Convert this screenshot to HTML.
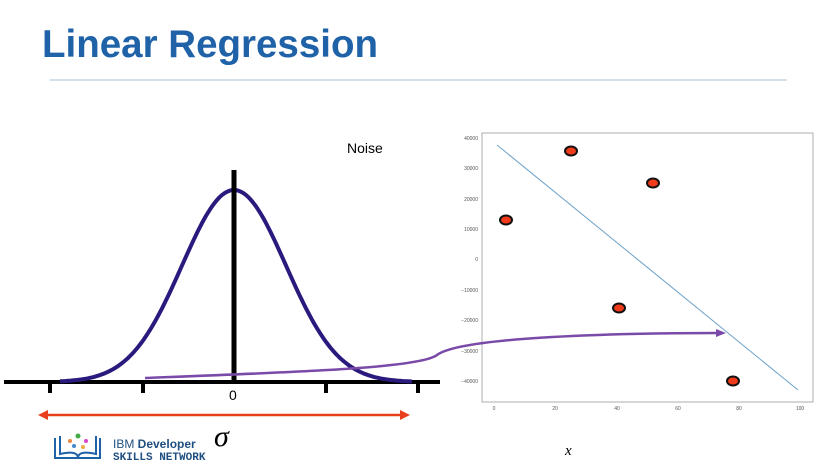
<!DOCTYPE html>
<html><head><meta charset="utf-8"><style>
html,body{margin:0;padding:0;background:#fff;}
svg{display:block;}
</style></head><body>
<svg id="s" width="832" height="469" viewBox="0 0 832 469" xmlns="http://www.w3.org/2000/svg" font-family="Liberation Sans, sans-serif">
<rect width="832" height="469" fill="#fff"/>
<text x="42" y="57" font-size="39" font-weight="bold" fill="#1f62a8" textLength="336" lengthAdjust="spacingAndGlyphs">Linear Regression</text>
<line x1="50" y1="80" x2="787" y2="80" stroke="#c5d6e6" stroke-width="1.5"/>
<text x="347" y="153" font-size="14" fill="#000">Noise</text>
<!-- axis -->
<line x1="4" y1="382" x2="440" y2="382" stroke="#000" stroke-width="4"/>
<g stroke="#000" stroke-width="4">
<line x1="50" y1="382" x2="50" y2="393"/><line x1="143" y1="382" x2="143" y2="393"/>
<line x1="326" y1="382" x2="326" y2="393"/><line x1="418" y1="382" x2="418" y2="393"/>
</g>
<path id="g" fill="none" stroke="#2b1a7e" stroke-width="4"/>
<line x1="234" y1="170" x2="234" y2="382" stroke="#000" stroke-width="5"/>
<text x="229" y="400" font-size="14">0</text>
<line x1="44" y1="415" x2="404" y2="415" stroke="#e8401c" stroke-width="2.5"/>
<polygon points="38,415 48,410 48,420" fill="#e8401c"/>
<polygon points="410,415 400,410 400,420" fill="#e8401c"/>
<text x="214" y="446" font-size="30" font-style="italic" font-family="Liberation Serif, serif">σ</text>
<!-- logo -->
<g stroke="#1f62a8" stroke-width="2" fill="none">
<path d="M55 438 V458 H100 V438"/><path d="M60 436 V454 Q78 450 78 458 Q78 450 96 454 V436"/>
</g>
<circle cx="70" cy="441" r="2" fill="#e84"/><circle cx="78" cy="436" r="2.5" fill="#4a4"/><circle cx="86" cy="441" r="2" fill="#d4c"/><circle cx="74" cy="446" r="2" fill="#48c"/><circle cx="83" cy="447" r="2" fill="#ea4"/>
<text x="113" y="448" font-size="12" fill="#1f4f80">IBM <tspan font-weight="bold">Developer</tspan></text>
<text x="113" y="460" font-size="11" fill="#1f4f80" font-family="Liberation Mono, monospace" font-weight="bold">SKILLS NETWORK</text>
<!-- scatter plot -->
<rect x="482" y="133" width="331" height="269" fill="#fff" stroke="#999" stroke-width="0.8"/>
<g font-size="5" fill="#555" text-anchor="end">
<text x="478" y="140">40000</text><text x="478" y="170">30000</text><text x="478" y="201">20000</text>
<text x="478" y="231">10000</text><text x="478" y="261">0</text><text x="478" y="292">−10000</text>
<text x="478" y="322">−20000</text><text x="478" y="353">−30000</text><text x="478" y="383">−40000</text>
</g>
<g font-size="5" fill="#555" text-anchor="middle">
<text x="494" y="410">0</text><text x="555" y="410">20</text><text x="617" y="410">40</text>
<text x="678" y="410">60</text><text x="739" y="410">80</text><text x="800" y="410">100</text>
</g>
<line x1="497" y1="145" x2="798" y2="390" stroke="#6fa3c9" stroke-width="1"/>
<g fill="#f03a1a" stroke="#111" stroke-width="2">
<ellipse cx="506" cy="220" rx="6" ry="4.5"/><ellipse cx="571" cy="151" rx="6" ry="4.5"/>
<ellipse cx="653" cy="183" rx="6" ry="4.5"/><ellipse cx="619" cy="308" rx="6" ry="4.5"/>
<ellipse cx="733" cy="381" rx="6" ry="4.5"/>
</g>
<text x="565" y="455" font-size="15" font-style="italic" font-family="Liberation Serif, serif">x</text>
<path d="M145 378 C300 372 420 368 437 355 C460 338 600 333 718 333" fill="none" stroke="#7a4aa8" stroke-width="2.5"/>
<polygon points="726,333 716,329 716,337" fill="#7a4aa8"/>
</svg>
<script>
var d="";for(var x=60;x<=412;x+=2){var y=382-192*Math.exp(-Math.pow((x-234)/52,2)/2);d+=(x==60?"M":"L")+x+" "+y.toFixed(1)+" ";}
document.getElementById("g").setAttribute("d",d);
</script>
</body></html>
